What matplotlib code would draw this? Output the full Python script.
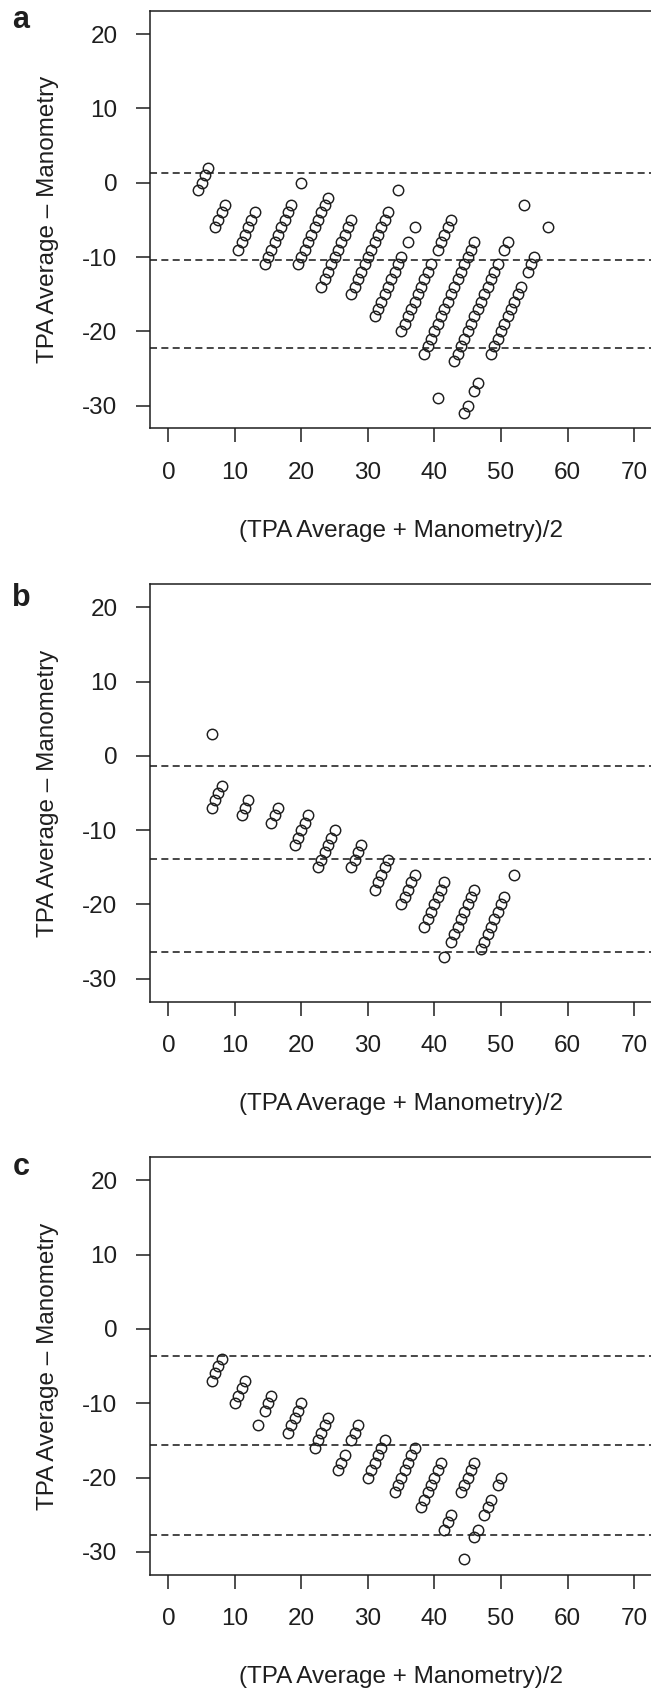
import matplotlib
matplotlib.use('Agg')
import matplotlib.pyplot as plt

plt.rcParams['font.family'] = ['Liberation Sans', 'DejaVu Sans']

# ---------------- data ----------------
a_x = [4.5, 5, 5.5, 6,
       7, 7.5, 8, 8.5,
       10.5, 11, 11.5, 12, 12.5, 13,
       14.5, 15, 15.5, 16, 16.5, 17, 17.5, 18, 18.5, 20,
       19.5, 20, 20.5, 21, 21.5, 22, 22.5, 23, 23.5, 24,
       23, 23.5, 24, 24.5, 25, 25.5, 26, 26.5, 27, 27.5,
       27.5, 28, 28.5, 29, 29.5, 30, 30.5, 31, 31.5, 32, 32.5, 33, 34.5,
       31, 31.5, 32, 32.5, 33, 33.5, 34, 34.5, 35, 36, 37,
       35, 35.5, 36, 36.5, 37, 37.5, 38, 38.5, 39, 39.5, 40.5, 41, 41.5, 42, 42.5,
       38.5, 39, 39.5, 40, 40.5, 41, 41.5, 42, 42.5, 43, 43.5, 44, 44.5, 45, 45.5, 46,
       40.5, 43, 43.5, 44, 44.5, 45, 45.5, 46, 46.5, 47, 47.5, 48, 48.5, 49, 49.5, 50.5, 51, 53.5,
       44.5, 45, 46, 46.5, 48.5, 49, 49.5, 50, 50.5, 51, 51.5, 52, 52.5, 53, 54, 54.5, 55, 57]
a_y = [-1, 0, 1, 2,
       -6, -5, -4, -3,
       -9, -8, -7, -6, -5, -4,
       -11, -10, -9, -8, -7, -6, -5, -4, -3, 0,
       -11, -10, -9, -8, -7, -6, -5, -4, -3, -2,
       -14, -13, -12, -11, -10, -9, -8, -7, -6, -5,
       -15, -14, -13, -12, -11, -10, -9, -8, -7, -6, -5, -4, -1,
       -18, -17, -16, -15, -14, -13, -12, -11, -10, -8, -6,
       -20, -19, -18, -17, -16, -15, -14, -13, -12, -11, -9, -8, -7, -6, -5,
       -23, -22, -21, -20, -19, -18, -17, -16, -15, -14, -13, -12, -11, -10, -9, -8,
       -29, -24, -23, -22, -21, -20, -19, -18, -17, -16, -15, -14, -13, -12, -11, -9, -8, -3,
       -31, -30, -28, -27, -23, -22, -21, -20, -19, -18, -17, -16, -15, -14, -12, -11, -10, -6]
a_limits = [1.35, -10.46, -22.28]

b_x = [6.5,
       6.5, 7, 7.5, 8,
       11, 11.5, 12,
       15.5, 16, 16.5,
       19, 19.5, 20, 20.5, 21,
       22.5, 23, 23.5, 24, 24.5, 25,
       27.5, 28, 28.5, 29,
       31, 31.5, 32, 32.5, 33,
       35, 35.5, 36, 36.5, 37,
       38.5, 39, 39.5, 40, 40.5, 41, 41.5,
       41.5, 42.5, 43, 43.5, 44, 44.5, 45, 45.5, 46,
       47, 47.5, 48, 48.5, 49, 49.5, 50, 50.5, 52]
b_y = [3,
       -7, -6, -5, -4,
       -8, -7, -6,
       -9, -8, -7,
       -12, -11, -10, -9, -8,
       -15, -14, -13, -12, -11, -10,
       -15, -14, -13, -12,
       -18, -17, -16, -15, -14,
       -20, -19, -18, -17, -16,
       -23, -22, -21, -20, -19, -18, -17,
       -27, -25, -24, -23, -22, -21, -20, -19, -18,
       -26, -25, -24, -23, -22, -21, -20, -19, -16]
b_limits = [-1.30, -13.85, -26.39]

c_x = [6.5, 7, 7.5, 8,
       10, 10.5, 11, 11.5,
       13.5, 14.5, 15, 15.5,
       18, 18.5, 19, 19.5, 20,
       22, 22.5, 23, 23.5, 24,
       25.5, 26, 26.5, 27.5, 28, 28.5,
       30, 30.5, 31, 31.5, 32, 32.5,
       34, 34.5, 35, 35.5, 36, 36.5, 37,
       38, 38.5, 39, 39.5, 40, 40.5, 41,
       41.5, 42, 42.5, 44, 44.5, 45, 45.5, 46,
       44.5, 46, 46.5, 47.5, 48, 48.5, 49.5, 50]
c_y = [-7, -6, -5, -4,
       -10, -9, -8, -7,
       -13, -11, -10, -9,
       -14, -13, -12, -11, -10,
       -16, -15, -14, -13, -12,
       -19, -18, -17, -15, -14, -13,
       -20, -19, -18, -17, -16, -15,
       -22, -21, -20, -19, -18, -17, -16,
       -24, -23, -22, -21, -20, -19, -18,
       -27, -26, -25, -22, -21, -20, -19, -18,
       -31, -28, -27, -25, -24, -23, -21, -20]
c_limits = [-3.68, -15.68, -27.68]

panel_letters = ['a', 'b', 'c']
x_ticks = [0, 10, 20, 30, 40, 50, 60, 70]
y_ticks = [20, 10, 0, -10, -20, -30]
x_label = '(TPA Average + Manometry)/2'
y_label = 'TPA Average \u2013 Manometry'

# ---------------- layout (pixels) ----------------
W, H = 651, 1692
fig = plt.figure(figsize=(W / 100, H / 100), dpi=100)
INK = '#1e1e1e'
FS = 17.5

XLIM = (-2.8, 72.8)
YLIM = (-33.08, 23.08)
ax_left, ax_right = 149.7, 652.7
zero_px = [182.7, 755.9, 1328.9]
letter_base = [28.0, 606.5, 1175.0]
px_per_y = 7.43

panels = [(a_x, a_y, a_limits), (b_x, b_y, b_limits), (c_x, c_y, c_limits)]

for i, (xs, ys, lims) in enumerate(panels):
    z = zero_px[i]
    top = z - px_per_y * YLIM[1]
    bot = z - px_per_y * YLIM[0]
    ax = fig.add_axes([ax_left / W, 1 - bot / H, (ax_right - ax_left) / W, (bot - top) / H])
    ax.set_xlim(*XLIM)
    ax.set_ylim(*YLIM)
    for v in lims:
        ax.axhline(v, color=INK, lw=1.15, ls=(0, (4.4, 2.7)), zorder=1)
    ax.plot(xs, ys, ls='none', marker='o', ms=7.5, mfc='none', mec=INK, mew=1.05, zorder=2)
    ax.set_xticks(x_ticks)
    ax.set_yticks(y_ticks)
    ax.set_xticklabels([str(t) for t in x_ticks])
    ax.set_yticklabels([str(t) for t in y_ticks])
    for s in ax.spines.values():
        s.set_linewidth(1.1)
        s.set_color(INK)
    ax.tick_params(axis='both', direction='out', length=10, width=1.1, color=INK,
                   labelsize=FS, labelcolor=INK)
    ax.tick_params(axis='x', pad=14.0)
    ax.tick_params(axis='y', pad=13.2)
    # axis titles
    fig.text(401.2 / W, 1 - (bot + 102.5) / H, x_label, ha='center', va='center',
             fontsize=FS, color=INK)
    fig.text(48.3 / W, 1 - ((top + bot) / 2) / H, y_label, ha='center', va='center',
             rotation=90, fontsize=FS, color=INK)
    fig.text(12.5 / W, 1 - letter_base[i] / H, panel_letters[i], ha='left', va='baseline',
             fontsize=22, fontweight='bold', color=INK)

fig.savefig('out.png', dpi=100)
